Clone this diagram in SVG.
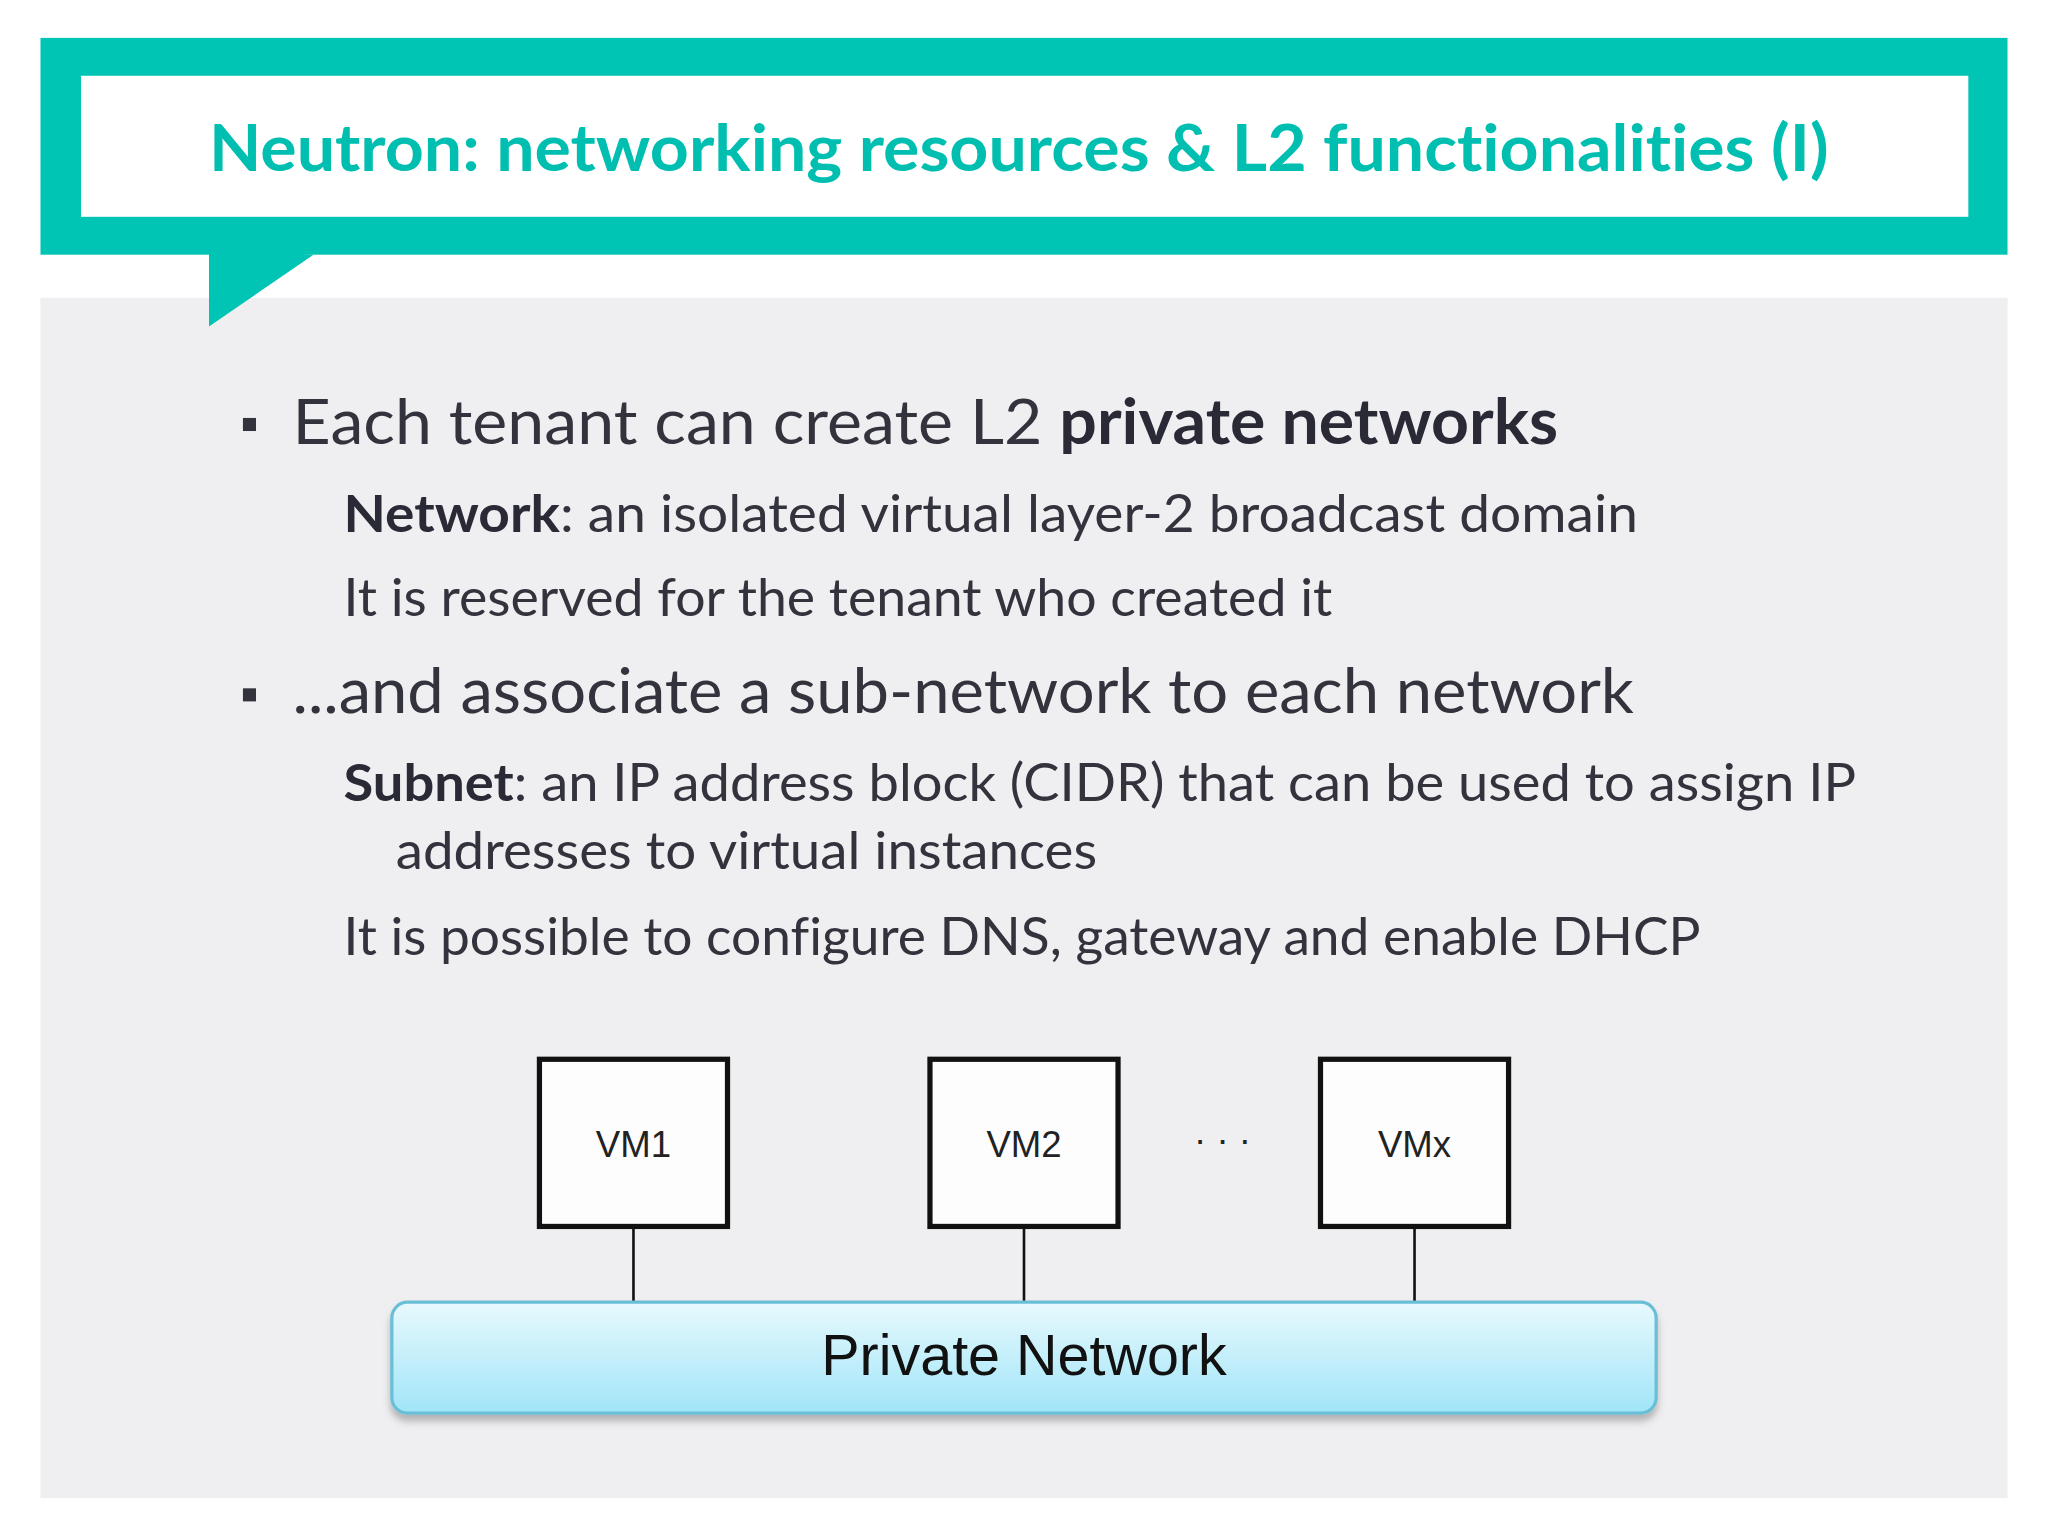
<svg xmlns="http://www.w3.org/2000/svg" width="2048" height="1536" viewBox="0 0 2048 1536">
<style>
text{font-variant-ligatures:none}
.t{font-family:Lato,"Open Sans","Noto Sans",sans-serif;fill:#33333d}
.b{font-weight:bold;fill:#2a2a36}
.vm{font-family:"Liberation Sans",Arial,sans-serif;font-size:28px;fill:#222;text-anchor:middle}
.box{fill:#fdfdfd;stroke:#111;stroke-width:4}
.ln{stroke:#111;stroke-width:2}
</style>
<defs>
<linearGradient id="pg" x1="0" y1="0" x2="0" y2="1"><stop offset="0" stop-color="#e8f9fd"/><stop offset="1" stop-color="#a0e5f8"/></linearGradient>
<filter id="sh" x="-5%" y="-20%" width="110%" height="150%"><feDropShadow dx="0" dy="5" stdDeviation="3" flood-color="#000" flood-opacity="0.25"/></filter>
</defs>
<rect width="2048" height="1536" fill="#ffffff"/>
<g transform="scale(1.30612)">
<g id="header">
<rect x="31" y="228" width="1506" height="919" fill="#efeef0"/>
<rect x="31" y="29" width="1506" height="166" fill="#00c4b4"/>
<polygon points="160,190 240,195 160,250" fill="#00c4b4"/>
<rect x="62" y="58" width="1445" height="108" fill="#ffffff"/>
<text x="160" y="131" textLength="1240" lengthAdjust="spacingAndGlyphs" font-family="Lato,'Open Sans',sans-serif" font-weight="bold" font-size="50" fill="#00bfb0">Neutron: networking resources &amp; L2 functionalities (I)</text>
</g>
<g id="body">
<rect x="186" y="320" width="10" height="10" fill="#33333d"/>
<text class="t" x="224" y="340" font-size="48" textLength="969" lengthAdjust="spacingAndGlyphs">Each tenant can create L2 <tspan class="b">private networks</tspan></text>
<text class="t" x="263" y="407" font-size="40" textLength="991" lengthAdjust="spacingAndGlyphs"><tspan class="b">Network</tspan>: an isolated virtual layer-2 broadcast domain</text>
<text class="t" x="263" y="472" font-size="40" textLength="757" lengthAdjust="spacingAndGlyphs">It is reserved for the tenant who created it</text>
<rect x="186" y="527" width="10" height="10" fill="#33333d"/>
<text class="t" x="224" y="546" font-size="48" textLength="1027" lengthAdjust="spacingAndGlyphs">...and associate a sub-network to each network</text>
<text class="t" x="263" y="613" font-size="40" textLength="1158" lengthAdjust="spacingAndGlyphs"><tspan class="b">Subnet</tspan>: an IP address block (CIDR) that can be used to assign IP</text>
<text class="t" x="303" y="665" font-size="40" textLength="537" lengthAdjust="spacingAndGlyphs">addresses to virtual instances</text>
<text class="t" x="263" y="731" font-size="40" textLength="1039" lengthAdjust="spacingAndGlyphs">It is possible to configure DNS, gateway and enable DHCP</text>
</g>
<g id="connectors">
<line class="ln" x1="485" y1="940" x2="485" y2="998"/>
<line class="ln" x1="784" y1="940" x2="784" y2="998"/>
<line class="ln" x1="1083" y1="940" x2="1083" y2="998"/>
</g>
<g id="vm1"><rect class="box" x="413" y="811" width="144" height="128"/><text class="vm" x="485" y="886">VM1</text></g>
<g id="vm2"><rect class="box" x="712" y="811" width="144" height="128"/><text class="vm" x="784" y="886">VM2</text></g>
<text class="vm" x="936" y="882">· · ·</text>
<g id="vmx"><rect class="box" x="1011" y="811" width="144" height="128"/><text class="vm" x="1083" y="886">VMx</text></g>
<g id="private-network">
<rect x="300" y="997" width="968" height="85" rx="12" fill="url(#pg)" stroke="#6bbfd6" stroke-width="2.5" filter="url(#sh)"/>
<text x="784" y="1053" text-anchor="middle" font-family="'Liberation Sans',Arial,sans-serif" font-size="44" fill="#111">Private Network</text>
</g>
</g>
</svg>
